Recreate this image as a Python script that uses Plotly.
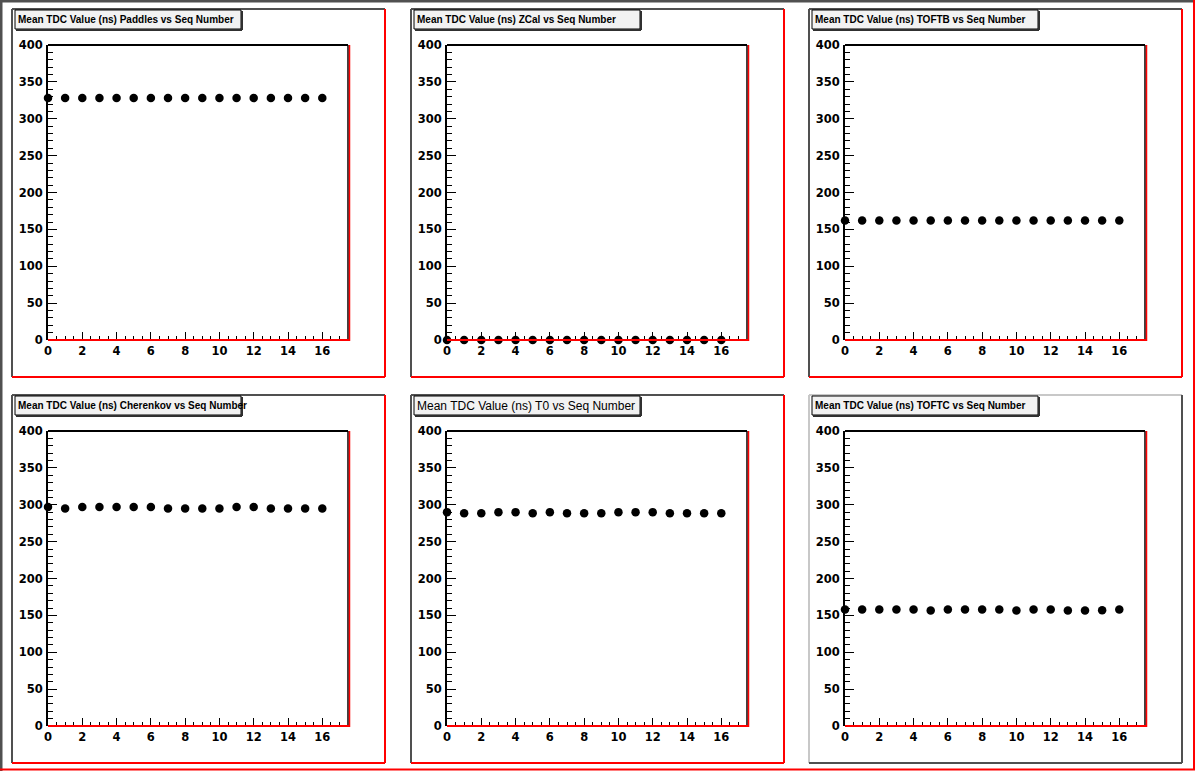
import plotly.graph_objects as go

W, H = 1196, 772

seq_number = [0, 1, 2, 3, 4, 5, 6, 7, 8, 9, 10, 11, 12, 13, 14, 15, 16]

tdc_paddles = [328, 328, 328, 328, 328, 328, 328, 328, 328, 328, 328, 328, 328, 328, 328, 328, 328]
tdc_zcal = [0, 0, 0, 0, 0, 0, 0, 0, 0, 0, 0, 0, 0, 0, 0, 0, 0]
tdc_toftb = [162, 162, 162, 162, 162, 162, 162, 162, 162, 162, 162, 162, 162, 162, 162, 162, 162]
tdc_cherenkov = [297, 295, 297, 297, 297, 297, 297, 295, 295, 295, 295, 297, 297, 295, 295, 295, 295]
tdc_t0 = [290, 288.5, 288.5, 290, 290, 288.5, 290, 288.5, 288.5, 288.5, 290, 290, 290, 288.5, 288.5, 288.5, 288.5]
tdc_toftc = [158, 158, 158, 158, 158, 156.5, 158, 158, 158, 158, 156.5, 158, 158, 156.5, 156.5, 157, 158]

titles = [
    "Mean TDC Value (ns) Paddles vs Seq Number",
    "Mean TDC Value (ns) ZCal vs Seq Number",
    "Mean TDC Value (ns) TOFTB vs Seq Number",
    "Mean TDC Value (ns) Cherenkov vs Seq Number",
    "Mean TDC Value (ns) T0 vs Seq Number",
    "Mean TDC Value (ns) TOFTC vs Seq Number",
]
series = [tdc_paddles, tdc_zcal, tdc_toftb, tdc_cherenkov, tdc_t0, tdc_toftc]

x_range = [0, 17.5]
y_range = [0, 400]

# pad corners in pixels (left, top, right, bottom)
pad_cols = [(12, 385), (411, 784), (809, 1182)]
pad_rows = [(9, 377), (395, 763)]

RED = "#ff0000"
GRAY = "#505050"


def px(x):
    return x / W


def py(y):
    return 1 - y / H


def line(x0, y0, x1, y1, color, width=2, xref="paper", yref="paper"):
    return dict(type="line", xref=xref, yref=yref, x0=x0, y0=y0, x1=x1, y1=y1,
                line=dict(color=color, width=width))


fig = go.Figure()
shapes = []
annotations = []
tick_font = dict(family="DejaVu Sans", size=11.5, color="black", weight="bold")

# canvas border
shapes.append(line(px(1), py(0), px(1), py(771), GRAY, 3))
shapes.append(line(px(0), py(1), px(1195), py(1), GRAY, 3))
shapes.append(line(px(1194), py(0), px(1194), py(770), RED, 2))
shapes.append(line(px(0), py(769.5), px(1195), py(769.5), RED, 2))

for k, (title, vals) in enumerate(zip(titles, series)):
    row, col = divmod(k, 3)
    left, right = pad_cols[col]
    top, bottom = pad_rows[row]
    n = "" if k == 0 else str(k + 1)

    # pad border
    if k == 5:
        c_tl, c_br = "#c8c8c8", GRAY
    else:
        c_tl, c_br = GRAY, RED
    shapes.append(line(px(left), py(top), px(left), py(bottom), c_tl, 2))
    shapes.append(line(px(left), py(top), px(right), py(top), c_tl, 2))
    shapes.append(line(px(right), py(top), px(right), py(bottom), c_br, 2))
    shapes.append(line(px(left), py(bottom), px(right), py(bottom), c_br, 2))

    fx0, fx1 = left + 36, left + 336
    fy0, fy1 = top + 36, top + 331

    fig.add_trace(go.Scatter(
        x=seq_number, y=vals, mode="markers",
        marker=dict(symbol="circle", size=8.5, color="black"),
        xaxis="x" + n, yaxis="y" + n,
        cliponaxis=False, showlegend=False,
    ))

    fig.layout["xaxis" + n] = dict(
        domain=[px(fx0), px(fx1)], anchor="y" + n, range=x_range,
        showgrid=False, zeroline=False, showline=False,
        ticks="inside", tickmode="linear", tick0=0, dtick=2, ticklen=8,
        tickcolor="black", tickwidth=1,
        minor=dict(ticks="inside", dtick=0.5, ticklen=4, tickcolor="black", tickwidth=1),
        tickfont=tick_font, ticklabelstandoff=2,
    )
    fig.layout["yaxis" + n] = dict(
        domain=[py(fy1), py(fy0)], anchor="x" + n, range=y_range,
        showgrid=False, zeroline=False, showline=True, linecolor="black", linewidth=2,
        ticks="inside", tickmode="linear", tick0=0, dtick=50, ticklen=9,
        tickcolor="black", tickwidth=1,
        minor=dict(ticks="inside", dtick=10, ticklen=5, tickcolor="black", tickwidth=1),
        tickfont=tick_font, ticklabelstandoff=1,
    )

    # frame: black top/right, red right/bottom
    shapes.append(line(px(fx0), py(fy0), px(fx1), py(fy0), "black", 2))
    shapes.append(line(px(fx1), py(fy0), px(fx1), py(fy1), "black", 1.5))
    shapes.append(line(px(fx1 + 1.5), py(fy0), px(fx1 + 1.5), py(fy1 + 1), RED, 1.5))
    shapes.append(line(px(fx0), py(fy1), px(fx1 + 1.5), py(fy1), RED, 2))

    # title box with shadow
    bx0, bx1 = left + 3, left + 229
    by0, by1 = top + 1, top + 20
    shapes.append(dict(type="rect", xref="paper", yref="paper",
                       x0=px(bx0), y0=py(by1), x1=px(bx1), y1=py(by0),
                       fillcolor="#f2f2f2", line=dict(color="black", width=1)))
    shapes.append(line(px(bx1 + 1), py(by0 + 1), px(bx1 + 1), py(by1 + 1), "#303030", 2))
    shapes.append(line(px(bx0 + 1), py(by1 + 1), px(bx1 + 1), py(by1 + 1), "#303030", 2))
    if k == 4:
        tfont = dict(family="Liberation Sans", size=12, color="black")
    else:
        tfont = dict(family="Liberation Sans", size=10, color="black", weight="bold")
    annotations.append(dict(
        text=title, xref="paper", yref="paper",
        x=px(bx0 + 1), y=py((by0 + by1) / 2), xanchor="left", yanchor="middle",
        showarrow=False, font=tfont,
    ))

fig.update_layout(
    autosize=True,
    margin=dict(l=0, r=0, t=0, b=0, autoexpand=False),
    paper_bgcolor="white", plot_bgcolor="white",
    shapes=shapes, annotations=annotations,
)

# fill the browser window exactly, no page margin or scrollbars
fill_window = """
var gd = document.getElementById('{plot_id}');
document.documentElement.style.height = '100%';
document.documentElement.style.overflow = 'hidden';
document.body.style.height = '100%';
document.body.style.margin = '0';
document.body.style.overflow = 'hidden';
gd.parentElement.style.height = '100%';
Plotly.relayout(gd, {width: window.innerWidth, height: window.innerHeight});
"""

fig.write_html(
    "out.html",
    config={"displayModeBar": False},
    default_width="100%", default_height="100%",
    post_script=fill_window,
)
